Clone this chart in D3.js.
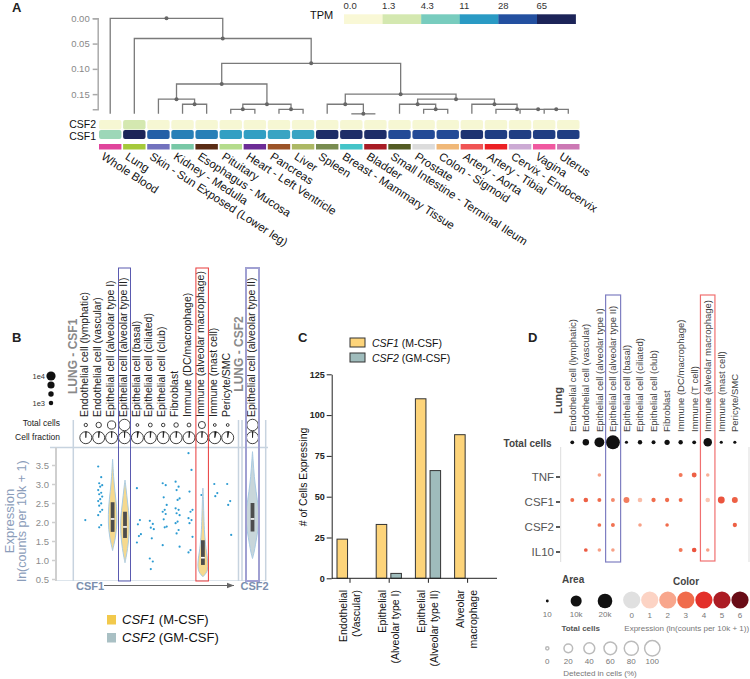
<!DOCTYPE html>
<html lang="en">
<head>
<meta charset="UTF-8">
<title>CSF1 / CSF2 expression</title>
<style>
  body { margin: 0; background: #fff; }
  svg { display: block; }
</style>
</head>
<body>
<script src="https://cdn.jsdelivr.net/npm/d3@7/dist/d3.min.js"></script>
<script>
// ---------- A: GTEx tissues ----------
const tissues = ["Whole Blood", "Lung", "Skin - Sun Exposed (Lower leg)", "Kidney - Medulla",
  "Esophagus - Mucosa", "Pituitary", "Heart - Left Ventricle", "Pancreas", "Liver", "Spleen",
  "Breast - Mammary Tissue", "Bladder", "Small Intestine - Terminal Ileum", "Prostate",
  "Colon - Sigmoid", "Artery - Aorta", "Artery - Tibial", "Cervix - Endocervix", "Vagina", "Uterus"];
const tissueColors = ["#e0449c", "#a5c93a", "#7272be", "#78c8a6", "#5a2c14", "#b4dc8c", "#6c2c96",
  "#9c5428", "#acb864", "#788c50", "#44c4c8", "#a81c24", "#545c24", "#dcdcdc", "#f0b878",
  "#f05454", "#ec2024", "#ccaad4", "#f058a0", "#cc78b4"];
const csf1Tpm = [3.1, 80, 24.6, 17, 17, 10.3, 10.3, 9.7, 9.7, 57, 57, 57, 33, 33, 33, 52, 43, 43, 43, 43];
const csf2Tpm = [0.1, 1.3, 0.1, 0.1, 0.1, 0.1, 0.1, 0.1, 0.1, 0.1, 0.1, 0.1, 0.1, 0.1, 0.1, 0.1, 0.1, 0.1, 0.1, 0.1];
const tpmBreaks = [0, 1.3, 4.3, 11, 28, 65];
const tpmLabels = ["0.0", "1.3", "4.3", "11", "28", "65"];
const tpmColors = ["#f9f8d6", "#d4e8b0", "#78ccbe", "#2a9ac4", "#2350a0", "#1c2458"];
const denTicks = [0, 0.05, 0.1, 0.15];

// clustering merges: [left, right, height]; "mK" = merge number K of this list
const merges = [
  ["Kidney - Medulla", "Esophagus - Mucosa", 0.170],             // m0
  ["Skin - Sun Exposed (Lower leg)", "m0", 0.160],               // m1
  ["Pituitary", "Heart - Left Ventricle", 0.180],               // m2
  ["Pancreas", "Liver", 0.180],                                 // m3
  ["m2", "m3", 0.170],                                          // m4
  ["m1", "m4", 0.130],                                          // m5
  ["Breast - Mammary Tissue", "Bladder", 0.189],                // m6
  ["Spleen", "m6", 0.170],                                      // m7
  ["Prostate", "Colon - Sigmoid", 0.180],                       // m8
  ["Small Intestine - Terminal Ileum", "m8", 0.170],            // m9
  ["Vagina", "Uterus", 0.180],                                  // m10
  ["Cervix - Endocervix", "m10", 0.180],                        // m11
  ["Artery - Tibial", "m11", 0.180],                            // m12
  ["Artery - Aorta", "m12", 0.170],                             // m13
  ["m9", "m13", 0.160],                                         // m14
  ["m7", "m14", 0.150],                                         // m15
  ["m5", "m15", 0.089],                                         // m16
  ["Lung", "m16", 0.040],                                       // m17
  ["Whole Blood", "m17", 0.000]                                 // m18
];

// ---------- B / D: lung cell types ----------
const lungCellTypes = ["Endothelial cell (lymphatic)", "Endothelial cell (vascular)",
  "Epithelial cell (alveolar type I)", "Epithelial cell (alveolar type II)", "Epithelial cell (basal)",
  "Epithelial cell (ciliated)", "Epithelial cell (club)", "Fibroblast", "Immune (DC/macrophage)",
  "Immune (T cell)", "Immune (alveolar macrophage)", "Immune (mast cell)", "Pericyte/SMC"];
const totalCells = [200, 2000, 7300, 17800, 40, 450, 250, 950, 450, 200, 4800, 40, 40];
const bCellTypes = lungCellTypes.filter(d => d !== "Immune (T cell)");
const bTotals = totalCells.filter((d, i) => lungCellTypes[i] !== "Immune (T cell)");
const csf1Fraction = [0.01, 0.02, 0.01, 0.01, 0.03, 0.02, 0.02, 0.02, 0.02, 0.01, 0.04, 0.03];
const csf2Fraction = 0.01;
const csf1Scatter = [
  [2.05],
  [3.46, 3.18, 3.02, 2.97, 2.93, 2.84, 2.77, 2.73, 2.67, 2.6, 2.55, 2.49, 2.43, 2.32, 2.27, 2.18, 1.92, 1.86],
  [],
  [],
  [2.89, 2.05, 1.94, 1.68, 1.63, 1.46],
  [2.03, 1.95, 1.85, 1.81, 1.57, 1.04, 0.96, 0.76],
  [3.02, 2.97, 2.65, 2.45, 2.32, 2.27, 2.21, 2.07, 1.88, 1.86, 1.39],
  [3.06, 2.93, 2.84, 2.62, 2.58, 2.36, 2.32, 2.23, 2.18, 2.01, 1.97, 1.79, 1.7, 1.35],
  [3.81, 3.37, 2.8, 2.32, 2.27, 2.1, 2.05, 1.97, 1.61, 1.26, 1.2],
  [2.71],
  [3.0, 2.76, 2.68],
  [3.0, 2.55, 2.45, 1.66]
];
// violin outlines: [expression, relative density]
const violinTypeI = [[1.25, 0], [1.4, 0.2], [1.6, 0.45], [1.8, 0.6], [2.0, 0.66], [2.2, 0.66], [2.4, 0.6],
  [2.6, 0.5], [2.8, 0.36], [3.0, 0.25], [3.2, 0.15], [3.4, 0.08], [3.65, 0]];
const violinTypeII = [[0.93, 0], [1.1, 0.2], [1.3, 0.4], [1.5, 0.55], [1.7, 0.65], [1.9, 0.68], [2.1, 0.65],
  [2.3, 0.55], [2.5, 0.4], [2.7, 0.28], [2.9, 0.15], [3.1, 0]];
const violinMacro = [[0.56, 0], [0.65, 0.5], [0.75, 0.75], [0.9, 0.78], [1.05, 0.7], [1.2, 0.55], [1.4, 0.4],
  [1.6, 0.3], [1.8, 0.22], [2.0, 0.17], [2.3, 0.12], [2.6, 0.07], [2.89, 0]];
const violinCsf2 = [[1.04, 0], [1.2, 0.25], [1.4, 0.45], [1.6, 0.65], [1.8, 0.85], [2.0, 0.97], [2.2, 1],
  [2.4, 0.9], [2.6, 0.72], [2.8, 0.55], [3.0, 0.4], [3.2, 0.28], [3.4, 0.18], [3.6, 0.1], [3.85, 0]];
// [q1, median, q3]
const boxTypeI = [1.74, 2.08, 2.52];
const boxTypeII = [1.58, 1.87, 2.27];
const boxMacro = [0.87, 1.06, 1.52];
const boxCsf2 = [1.75, 2.08, 2.5];
const bTicks = [0.5, 1.0, 1.5, 2.0, 2.5, 3.0, 3.5];
const bSizeLegend = [10000, 5000, 2000, 1000];
const bSizeLabels = ["1e4", "", "", "1e3"];

// ---------- C ----------
const cGroups = [["Endothelial", "(Vascular)"], ["Epithelial", "(Alveolar type I)"],
  ["Epithelial", "(Alveolar type II)"], ["Alveolar", "macrophage"]];
const cCsf1 = [24, 33, 110, 88];
const cCsf2 = [0, 3, 66, 0];
const cTicks = [0, 25, 50, 75, 100, 125];

// ---------- D ----------
const dGenes = ["TNF", "CSF1", "CSF2", "IL10"];
const dExpr = [
  [null, null, 2.1, null, null, null, null, null, 2.8, 3.2, 1.8, null, null],
  [3.0, 3.2, 3.0, 2.5, 2.7, 1.5, 3.0, 3.0, 3.0, null, 1.3, 3.4, 3.2],
  [null, null, 2.9, 2.9, null, 2.1, null, 3.0, null, null, null, null, 3.2],
  [null, 3.3, 2.1, 2.1, null, null, null, null, 2.8, 3.4, 2.1, null, null]
];
const dPct = [
  [null, null, 0.1, null, null, null, null, null, 0.4, 2.0, 0.1, null, null],
  [0.4, 1.3, 0.4, 0.4, 5, 1.3, 0.8, 0.8, 0.4, null, 1.3, 9, 5],
  [null, null, 0.2, 0.4, null, 0.1, null, 0.1, null, null, null, null, 0.8],
  [null, 0.2, 0.1, 0.1, null, null, null, null, 0.4, 1.3, 0.1, null, null]
];
const exprSteps = [0, 1, 2, 3, 4, 5, 6];
const exprColors = ["#e0e0e0", "#fcd3c4", "#f8a68c", "#f06c4c", "#e3302a", "#ac1c24", "#690c16"];
const dAreaLegend = [10, 10000, 20000];
const dAreaLabels = ["10", "10k", "20k"];
const dPctLegend = [0, 20, 40, 60, 80, 100];

// ======================================================
const FONT = '"Liberation Sans", Arial, Helvetica, sans-serif';
const svg = d3.select("body").append("svg")
  .attr("width", 750).attr("height", 679)
  .attr("font-family", FONT);
svg.append("rect").attr("width", 750).attr("height", 679).attr("fill", "#fff");

function letter(t, x, y) {
  svg.append("text").attr("x", x).attr("y", y).attr("font-size", 13)
    .attr("font-weight", "bold").attr("fill", "#222").text(t);
}
letter("A", 12, 12); letter("B", 12, 342); letter("C", 298, 342); letter("D", 528, 342);

// ---------------- Panel A ----------------
const gA = svg.append("g");
const xA = d3.scaleBand().domain(tissues).range([99, 579.5]).paddingInner(0.07);
const yDen = d3.scaleLinear().domain([0, 0.18]).range([18.3, 109.3]);
const leafHeight = 0.189;
const tpmColor = d3.scaleLinear().domain(tpmBreaks).range(tpmColors).clamp(true);

const axA = gA.append("g").attr("transform", "translate(97.7,0)")
  .call(d3.axisLeft(yDen).tickValues(denTicks).tickFormat(d3.format(".2f")).tickSize(5).tickPadding(3));
axA.attr("font-family", FONT).attr("font-size", 9.5);
axA.select(".domain").attr("stroke", "#aaa").attr("stroke-width", 1.5);
axA.selectAll(".tick line").attr("stroke", "#aaa").attr("stroke-width", 1.5);
axA.selectAll(".tick text").attr("fill", "#888");

// dendrogram
const denNodes = {};
tissues.forEach(t => denNodes[t] = { x: xA(t) + xA.bandwidth() / 2, h: leafHeight });
merges.forEach((m, i) => {
  const a = denNodes[m[0]], b = denNodes[m[1]];
  denNodes["m" + i] = { x: (a.x + b.x) / 2, h: m[2], a: a, b: b };
});
const internal = merges.map((m, i) => denNodes["m" + i]);
gA.selectAll("path.den").data(internal).join("path")
  .attr("class", "den")
  .attr("d", n => `M${n.a.x},${yDen(n.a.h)}V${yDen(n.h)}H${n.b.x}V${yDen(n.b.h)}`)
  .attr("fill", "none").attr("stroke", "#7a7a7a").attr("stroke-width", 1.3);
gA.selectAll("circle.den").data(internal).join("circle")
  .attr("class", "den")
  .attr("cx", n => n.x).attr("cy", n => yDen(n.h)).attr("r", 2).attr("fill", "#666");

// heatmap rows
const heatRows = [
  { gene: "CSF2", values: csf2Tpm, y: 120, h: 9.5, base: 128 },
  { gene: "CSF1", values: csf1Tpm, y: 130, h: 9, base: 139.8 }
];
heatRows.forEach(row => {
  gA.append("g").selectAll("rect").data(tissues).join("rect")
    .attr("x", t => xA(t)).attr("y", row.y)
    .attr("width", xA.bandwidth()).attr("height", row.h).attr("rx", 2)
    .attr("fill", (t, i) => tpmColor(row.values[i]));
  gA.append("text").attr("x", 96).attr("y", row.base)
    .attr("text-anchor", "end").attr("font-size", 10.5).attr("fill", "#111").text(row.gene);
});
gA.append("g").selectAll("rect").data(tissues).join("rect")
  .attr("x", t => xA(t)).attr("y", 144).attr("width", xA.bandwidth()).attr("height", 5.5)
  .attr("fill", (t, i) => tissueColors[i]);
gA.append("g").selectAll("text").data(tissues).join("text")
  .attr("transform", t => `translate(${xA(t) + 1.5},158.5) rotate(33)`)
  .attr("font-size", 11.5).attr("fill", "#111").text(t => t);

// TPM legend
const legA = d3.scaleBand().domain(tpmBreaks).range([344, 575.6]);
gA.append("text").attr("x", 310).attr("y", 19.3).attr("font-size", 11).attr("fill", "#111").text("TPM");
gA.append("g").selectAll("rect").data(tpmBreaks).join("rect")
  .attr("x", d => legA(d)).attr("y", 14.3).attr("width", legA.bandwidth() + 0.3).attr("height", 9.7)
  .attr("fill", (d, i) => tpmColors[i]);
gA.append("g").selectAll("text").data(tpmBreaks).join("text")
  .attr("x", d => legA(d) - 0.5).attr("y", 9).attr("font-size", 9.5).attr("fill", "#333")
  .text((d, i) => tpmLabels[i]);

// ---------------- Panel B ----------------
const gB = svg.append("g");
const xB = d3.scaleBand().domain(bCellTypes).range([79.35, 234.15]);
const cxB = t => xB(t) + xB.bandwidth() / 2;
const csf2X = 252.5;
const yB = d3.scaleLinear().domain([0.5, 3.5]).range([579, 465]);
const rTotB = d3.scaleSqrt().domain([0, 20000]).range([1.2, 6]);
const frameCol = "#c7d3df";

gB.append("line").attr("x1", 50).attr("x2", 268).attr("y1", 447.5).attr("y2", 447.5)
  .attr("stroke", frameCol).attr("stroke-width", 1.5);
gB.append("line").attr("x1", 56).attr("x2", 266).attr("y1", 580.5).attr("y2", 580.5)
  .attr("stroke", "#dde5ec").attr("stroke-width", 1);
[73.3, 238.5, 242, 265.7].forEach(x => {
  gB.append("line").attr("x1", x).attr("x2", x).attr("y1", 420).attr("y2", 581)
    .attr("stroke", frameCol).attr("stroke-width", 1.5);
});

const axB = gB.append("g").attr("transform", "translate(56,0)")
  .call(d3.axisLeft(yB).tickValues(bTicks).tickFormat(d3.format(".1f")).tickSize(4).tickSizeOuter(0));
axB.attr("font-family", FONT).attr("font-size", 9.5);
axB.select(".domain").remove();
axB.selectAll(".tick line").attr("stroke", "#cfcfcf").attr("stroke-width", 1.5);
axB.selectAll(".tick text").attr("fill", "#8c8c8c");
gB.append("line").attr("x1", 56).attr("x2", 56).attr("y1", 447.5).attr("y2", 581)
  .attr("stroke", "#cfcfcf").attr("stroke-width", 2);

gB.append("text").attr("transform", "translate(13.5,521) rotate(-90)")
  .attr("text-anchor", "middle").attr("font-size", 13).attr("fill", "#8b9dba").text("Expression");
gB.append("text").attr("transform", "translate(25.5,521) rotate(-90)")
  .attr("text-anchor", "middle").attr("font-size", 12.5).attr("fill", "#8b9dba").text("ln(counts per 10k + 1)");

// column headers
gB.append("g").selectAll("text").data(bCellTypes).join("text")
  .attr("transform", t => `translate(${cxB(t) - 1.5},417) rotate(-90)`)
  .attr("dy", "0.35em").attr("font-size", 10.5).attr("fill", "#222").text(t => t);
gB.append("text").attr("transform", `translate(${csf2X - 1.5},417) rotate(-90)`)
  .attr("dy", "0.35em").attr("font-size", 10.5).attr("fill", "#222").text("Epithelial cell (alveolar type II)");
gB.append("text").attr("transform", "translate(72.7,394) rotate(-90)")
  .attr("dy", "0.35em").attr("font-size", 12).attr("font-weight", "bold").attr("fill", "#8a8a8a").text("LUNG - CSF1");
gB.append("text").attr("transform", "translate(239,391.7) rotate(-90)")
  .attr("dy", "0.35em").attr("font-size", 12).attr("font-weight", "bold").attr("fill", "#8a8a8a").text("LUNG - CSF2");

// size legend
gB.append("g").selectAll("circle").data(bSizeLegend).join("circle")
  .attr("cx", 51).attr("cy", (d, i) => 376 + i * 9).attr("r", d => rTotB(d)).attr("fill", "#111");
gB.append("g").selectAll("text").data(bSizeLegend).join("text")
  .attr("x", 45).attr("y", (d, i) => 378.5 + i * 9).attr("text-anchor", "end")
  .attr("font-size", 7.5).attr("fill", "#333").text((d, i) => bSizeLabels[i]);

gB.append("text").attr("x", 60).attr("y", 426).attr("text-anchor", "end")
  .attr("font-size", 8.5).attr("fill", "#222").text("Total cells");
gB.append("text").attr("x", 60).attr("y", 439.5).attr("text-anchor", "end")
  .attr("font-size", 8.5).attr("fill", "#222").text("Cell fraction");

// total cells + fraction pies
const bCols = bCellTypes.map((t, i) => ({ x: cxB(t), total: bTotals[i], frac: csf1Fraction[i] }));
bCols.push({ x: csf2X, total: totalCells[3], frac: csf2Fraction });
gB.append("g").selectAll("circle").data(bCols).join("circle")
  .attr("cx", d => d.x).attr("cy", 425).attr("r", d => rTotB(d.total))
  .attr("fill", "#fff").attr("stroke", "#111").attr("stroke-width", 0.8);
const pieArc = d3.arc().innerRadius(0).outerRadius(6).startAngle(0);
const pies = gB.append("g").selectAll("g").data(bCols).join("g")
  .attr("transform", d => `translate(${d.x},437.7)`);
pies.append("circle").attr("r", 6).attr("fill", "#fff").attr("stroke", "#111").attr("stroke-width", 0.8);
pies.append("path").attr("d", d => pieArc({ endAngle: d.frac * 2 * Math.PI }))
  .attr("fill", "#111").attr("stroke", "#111").attr("stroke-width", 0.7);

// scatter of single cells
const scat = [];
csf1Scatter.forEach((vals, i) => vals.forEach((v, j) => {
  scat.push({ x: cxB(bCellTypes[i]) - 0.5 + (j * 3) % 5, v: v });
}));
gB.append("g").selectAll("circle").data(scat).join("circle")
  .attr("cx", d => d.x).attr("cy", d => yB(d.v)).attr("r", 1.1).attr("fill", "#2c9bd2");

// violins
const hw = d3.scaleLinear().domain([0, 1]).range([0, 6.5]);
const violins = [
  { pts: violinTypeI, box: boxTypeI, x: cxB(bCellTypes[2]) + 1, fill: "#f5d98e" },
  { pts: violinTypeII, box: boxTypeII, x: cxB(bCellTypes[3]) + 0.5, fill: "#f5d98e" },
  { pts: violinMacro, box: boxMacro, x: cxB(bCellTypes[9]) + 1, fill: "#f5d98e" },
  { pts: violinCsf2, box: boxCsf2, x: csf2X, fill: "#c8d6da" }
];
violins.forEach(vn => {
  const area = d3.area().curve(d3.curveBasis)
    .y(d => yB(d[0])).x0(d => vn.x - hw(d[1])).x1(d => vn.x + hw(d[1]));
  gB.append("path").attr("d", area(vn.pts)).attr("fill", vn.fill)
    .attr("stroke", "#a9cbe3").attr("stroke-width", 1);
  gB.append("rect").attr("x", vn.x - 1.9).attr("width", 3.8)
    .attr("y", yB(vn.box[2])).attr("height", yB(vn.box[0]) - yB(vn.box[2])).attr("fill", "#4d4d4d");
  gB.append("rect").attr("x", vn.x - 1.9).attr("width", 3.8)
    .attr("y", yB(vn.box[1]) - 0.8).attr("height", 1.6).attr("fill", "#fff");
});

// highlight boxes
gB.append("rect").attr("x", cxB(bCellTypes[3]) - 6).attr("y", 268).attr("width", 12).attr("height", 313)
  .attr("fill", "none").attr("stroke", "#5a5ab0").attr("stroke-width", 1);
gB.append("rect").attr("x", cxB(bCellTypes[9]) - 6).attr("y", 268).attr("width", 12.5).attr("height", 313)
  .attr("fill", "none").attr("stroke", "#e83a3a").attr("stroke-width", 1);
gB.append("rect").attr("x", csf2X - 6.5).attr("y", 268).attr("width", 13).attr("height", 313)
  .attr("fill", "none").attr("stroke", "#a0a0d2").attr("stroke-width", 2);

// CSF1 -> CSF2 arrow
svg.append("defs").append("marker").attr("id", "arrowB")
  .attr("viewBox", "0 0 10 10").attr("refX", 10).attr("refY", 5)
  .attr("markerWidth", 7).attr("markerHeight", 7).attr("orient", "auto")
  .append("path").attr("d", "M0,1L10,5L0,9Z").attr("fill", "#666");
gB.append("line").attr("x1", 104).attr("x2", 234).attr("y1", 585.5).attr("y2", 585.5)
  .attr("stroke", "#666").attr("stroke-width", 1).attr("marker-end", "url(#arrowB)");
gB.append("text").attr("x", 76).attr("y", 589.5).attr("font-size", 11).attr("font-weight", "bold")
  .attr("fill", "#7b8fae").text("CSF1");
gB.append("text").attr("x", 240.5).attr("y", 589.5).attr("font-size", 11).attr("font-weight", "bold")
  .attr("fill", "#7b8fae").text("CSF2");

// legend B
const legB = [["CSF1", " (M-CSF)", "#f2c94c"], ["CSF2", " (GM-CSF)", "#a9c0c4"]];
legB.forEach((l, i) => {
  gB.append("rect").attr("x", 107).attr("y", 615 + i * 18).attr("width", 9).attr("height", 9.5).attr("fill", l[2]);
  const t = gB.append("text").attr("x", 122).attr("y", 624 + i * 18).attr("font-size", 13).attr("fill", "#111");
  t.append("tspan").attr("font-style", "italic").text(l[0]);
  t.append("tspan").text(l[1]);
});

// ---------------- Panel C ----------------
const gC = svg.append("g");
const xC = d3.scaleBand().domain(d3.range(cGroups.length)).range([330.4, 487.2]);
const xCin = d3.scaleBand().domain(["CSF1", "CSF2"]).range([-13, 12.2]).paddingInner(0.28);
const yC = d3.scaleLinear().domain([0, 125]).range([578.3, 374.3]);
const cFill = { CSF1: "#fdd47a", CSF2: "#9fbcbc" };

const bars = [];
cGroups.forEach((g, i) => {
  bars.push({ g: i, s: "CSF1", v: cCsf1[i] });
  bars.push({ g: i, s: "CSF2", v: cCsf2[i] });
});
gC.append("g").selectAll("rect").data(bars).join("rect")
  .attr("x", d => xC(d.g) + xC.bandwidth() / 2 + xCin(d.s))
  .attr("width", xCin.bandwidth())
  .attr("y", d => yC(d.v)).attr("height", d => yC(0) - yC(d.v))
  .attr("fill", d => cFill[d.s]).attr("stroke", "#333").attr("stroke-width", 1);

const axC = gC.append("g").attr("transform", "translate(331.7,0)")
  .call(d3.axisLeft(yC).tickValues(cTicks).tickSize(5).tickSizeOuter(0).tickPadding(2));
axC.attr("font-family", FONT).attr("font-size", 9).attr("font-weight", "bold");
axC.selectAll(".domain, .tick line").attr("stroke", "#222");
axC.selectAll(".tick text").attr("fill", "#222");

gC.append("line").attr("x1", 331.7).attr("x2", 497).attr("y1", yC(0)).attr("y2", yC(0))
  .attr("stroke", "#222");
gC.append("g").selectAll("line").data(cGroups).join("line")
  .attr("x1", (d, i) => xC(i) + xC.bandwidth() / 2).attr("x2", (d, i) => xC(i) + xC.bandwidth() / 2)
  .attr("y1", yC(0)).attr("y2", yC(0) + 4.5).attr("stroke", "#222");
cGroups.forEach((g, i) => {
  const cx = xC(i) + xC.bandwidth() / 2;
  g.forEach((line, k) => {
    gC.append("text").attr("transform", `translate(${cx - 7 + k * 13},590) rotate(-90)`)
      .attr("dy", "0.35em").attr("text-anchor", "end").attr("font-size", 10.5).attr("fill", "#111")
      .text(line);
  });
});
gC.append("text").attr("transform", "translate(303,477) rotate(-90)")
  .attr("dy", "0.35em").attr("text-anchor", "middle").attr("font-size", 10.5).attr("fill", "#111")
  .text("# of Cells Expressing");

[["CSF1", " (M-CSF)"], ["CSF2", " (GM-CSF)"]].forEach((l, i) => {
  gC.append("rect").attr("x", 350).attr("y", 338 + i * 15).attr("width", 15).attr("height", 9)
    .attr("fill", cFill[l[0]]).attr("stroke", "#333");
  const t = gC.append("text").attr("x", 372).attr("y", 346.5 + i * 15).attr("font-size", 10.5).attr("fill", "#111");
  t.append("tspan").attr("font-style", "italic").text(l[0]);
  t.append("tspan").text(l[1]);
});

// ---------------- Panel D ----------------
const gD = svg.append("g");
const xD = d3.scaleBand().domain(lungCellTypes).range([565.5, 741.6]);
const cxD = t => xD(t) + xD.bandwidth() / 2;
const yD = d3.scalePoint().domain(dGenes).range([475, 550]);
const exprColor = d3.scaleLinear().domain(exprSteps).range(exprColors).clamp(true);
const pctR = d3.scaleSqrt().domain([0, 100]).range([1.6, 7.7]);
const rTotD = d3.scaleSqrt().domain([0, 20000]).range([1.3, 7.3]);
const textD = "#444";

gD.append("line").attr("x1", 560.7).attr("x2", 560.7).attr("y1", 447).attr("y2", 562).attr("stroke", "#ddd");
gD.append("line").attr("x1", 749).attr("x2", 749).attr("y1", 447).attr("y2", 562).attr("stroke", "#ddd");

gD.append("g").selectAll("text").data(lungCellTypes).join("text")
  .attr("transform", t => `translate(${cxD(t)},432) rotate(-90)`)
  .attr("dy", "0.35em").attr("font-size", 9.5).attr("fill", textD).text(t => t);
gD.append("text").attr("transform", "translate(558,414) rotate(-90)")
  .attr("dy", "0.35em").attr("font-size", 11).attr("font-weight", "bold").attr("fill", textD).text("Lung");

gD.append("text").attr("x", 551.7).attr("y", 447).attr("text-anchor", "end")
  .attr("font-size", 10).attr("font-weight", "bold").attr("fill", textD).text("Total cells");
gD.append("g").selectAll("circle").data(lungCellTypes).join("circle")
  .attr("cx", t => cxD(t)).attr("cy", 442.3).attr("r", (t, i) => rTotD(totalCells[i])).attr("fill", "#111");

gD.append("g").selectAll("text").data(dGenes).join("text")
  .attr("x", 554).attr("y", g => yD(g) + 2).attr("dy", "0.35em").attr("text-anchor", "end")
  .attr("font-size", 11.5).attr("fill", "#555").text(g => g);
gD.append("g").selectAll("line").data(dGenes).join("line")
  .attr("x1", 556).attr("x2", 560).attr("y1", g => yD(g) + 2).attr("y2", g => yD(g) + 2)
  .attr("stroke", "#222").attr("stroke-width", 1.5);

const dDots = [];
dGenes.forEach((g, gi) => lungCellTypes.forEach((t, ti) => {
  if (dExpr[gi][ti] != null) dDots.push({ g: g, t: t, e: dExpr[gi][ti], p: dPct[gi][ti] });
}));
gD.append("g").selectAll("circle").data(dDots).join("circle")
  .attr("cx", d => cxD(d.t)).attr("cy", d => yD(d.g)).attr("r", d => pctR(d.p))
  .attr("fill", d => exprColor(d.e));

gD.append("rect").attr("x", cxD(lungCellTypes[3]) - 7.3).attr("y", 295).attr("width", 15).attr("height", 267)
  .attr("fill", "none").attr("stroke", "#7f7fc2").attr("stroke-width", 1.2);
gD.append("rect").attr("x", cxD(lungCellTypes[10]) - 7.3).attr("y", 295).attr("width", 14.5).attr("height", 266)
  .attr("fill", "none").attr("stroke", "#f07070").attr("stroke-width", 1.2);

// legends D
gD.append("text").attr("x", 562).attr("y", 583).attr("font-size", 10).attr("font-weight", "bold")
  .attr("fill", textD).text("Area");
gD.append("g").selectAll("circle").data(dAreaLegend).join("circle")
  .attr("cx", (d, i) => 547.3 + i * 28.85).attr("cy", 601).attr("r", d => rTotD(d)).attr("fill", "#111");
gD.append("g").selectAll("text").data(dAreaLegend).join("text")
  .attr("x", (d, i) => 547.3 + i * 28.85).attr("y", 617).attr("text-anchor", "middle")
  .attr("font-size", 8).attr("fill", "#777").text((d, i) => dAreaLabels[i]);
gD.append("text").attr("x", 580.7).attr("y", 631).attr("text-anchor", "middle")
  .attr("font-size", 8).attr("font-weight", "bold").attr("fill", "#555").text("Total cells");

gD.append("text").attr("x", 686).attr("y", 585).attr("text-anchor", "middle").attr("font-size", 10)
  .attr("font-weight", "bold").attr("fill", textD).text("Color");
gD.append("g").selectAll("circle").data(exprSteps).join("circle")
  .attr("cx", (d, i) => 631.7 + i * 18.05).attr("cy", 600).attr("r", 8.6).attr("fill", d => exprColor(d));
gD.append("g").selectAll("text").data(exprSteps).join("text")
  .attr("x", (d, i) => 631.7 + i * 18.05).attr("y", 618).attr("text-anchor", "middle")
  .attr("font-size", 8).attr("fill", "#777").text(d => d);
gD.append("text").attr("x", 686.7).attr("y", 631).attr("text-anchor", "middle")
  .attr("font-size", 8).attr("fill", "#777").text("Expression (ln(counts per 10k + 1))");

gD.append("g").selectAll("circle").data(dPctLegend).join("circle")
  .attr("cx", (d, i) => 547.3 + i * 21).attr("cy", 648.3).attr("r", d => pctR(d))
  .attr("fill", "none").attr("stroke", "#bbb").attr("stroke-width", 1.5);
gD.append("g").selectAll("text").data(dPctLegend).join("text")
  .attr("x", (d, i) => 547.3 + i * 21).attr("y", 664).attr("text-anchor", "middle")
  .attr("font-size", 8).attr("fill", "#777").text(d => d);
gD.append("text").attr("x", 600).attr("y", 676).attr("text-anchor", "middle")
  .attr("font-size", 8).attr("fill", "#777").text("Detected in cells (%)");
</script>
</body>
</html>
